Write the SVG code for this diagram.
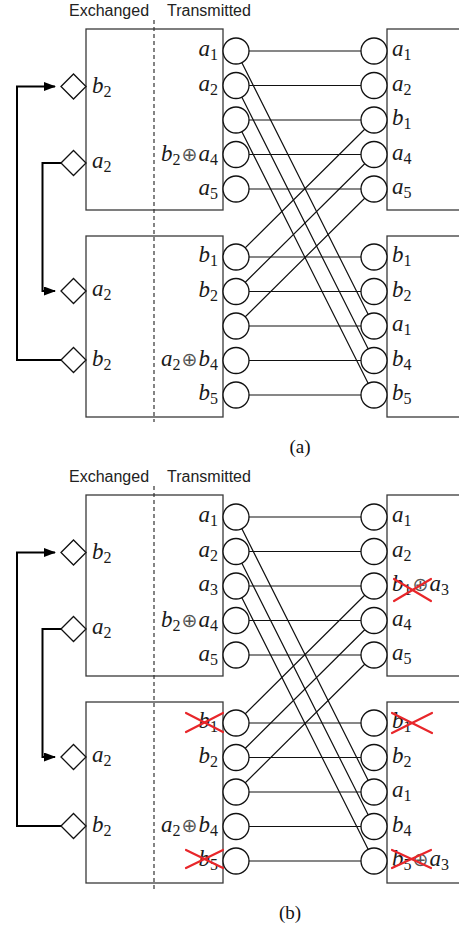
<svg xmlns="http://www.w3.org/2000/svg" width="459" height="927" viewBox="0 0 459 927">
<style>
.bg{fill:#fff}
.box{fill:none;stroke:#3a3a3a;stroke-width:1.3}
.dash{stroke:#333;stroke-width:1.2;stroke-dasharray:4 3;fill:none}
.c{fill:#fff;stroke:#111;stroke-width:1.3}
.w{stroke:#111;stroke-width:1.2;fill:none}
.dm{fill:#fff;stroke:#111;stroke-width:1.3}
.arr{fill:none;stroke:#000;stroke-width:2}
.hdr{font-family:"Liberation Sans",Arial,sans-serif;font-size:16px;fill:#222}
.m{font-family:"Liberation Serif","Times New Roman",serif;font-style:italic;font-size:23px;fill:#1a1a1a}
.ml{text-anchor:end}
.s{font-style:normal;font-size:16px}
.op{font-family:"DejaVu Sans",sans-serif;font-style:normal;font-size:19px;fill:#555}
.cap{font-family:"Liberation Serif","Times New Roman",serif;font-size:19px;text-anchor:middle;fill:#111}
.x{stroke:#e8262a;stroke-width:2.2;stroke-linecap:round}
</style>
<defs>
<marker id="ah" viewBox="0 0 12 9" refX="11" refY="4.5" markerWidth="12" markerHeight="9" markerUnits="userSpaceOnUse" orient="auto">
<path d="M0,0 L12,4.5 L0,9 z" fill="#000"/>
</marker>
</defs>
<rect class="bg" x="0" y="0" width="459" height="927"/>

<!-- ===================== PANEL (a) ===================== -->
<g id="panel-a">
<text class="hdr" x="69" y="16">Exchanged</text>
<text class="hdr" x="167" y="16">Transmitted</text>

<g id="a-box-tl"><rect class="box" x="86" y="29" width="137" height="181"/></g>
<g id="a-box-bl"><rect class="box" x="86" y="236" width="137" height="181"/></g>
<g id="a-box-tr"><rect class="box" x="387" y="29" width="100" height="181"/></g>
<g id="a-box-br"><rect class="box" x="387" y="236" width="100" height="181"/></g>
<line class="dash" x1="154" y1="20" x2="154" y2="422"/>

<g id="a-connectors">
<path class="w" d="M236,51H374M236,85.5H374M236,120H374M236,154.5H374M236,189H374M236,257H374M236,291.5H374M236,326H374M236,360.5H374M236,395H374"/>
<path class="w" d="M236,51L374,326M236,85.5L374,360.5M236,120L374,395"/>
<path class="w" d="M236,257L374,120M236,291.5L374,154.5M236,326L374,189"/>
<path class="arr" d="M61,360H17V86.5H55" marker-end="url(#ah)"/>
<path class="arr" d="M61,163H42.5V291H55" marker-end="url(#ah)"/>
</g>

<g id="a-dia-b2t"><polygon class="dm" points="61,86.5 73.5,74 86,86.5 73.5,99"/><text class="m" x="92" y="93">b<tspan class="s" dy="4">2</tspan></text></g>
<g id="a-dia-a2t"><polygon class="dm" points="61,163 73.5,150.5 86,163 73.5,175.5"/><text class="m" x="92" y="168">a<tspan class="s" dy="4">2</tspan></text></g>
<g id="a-dia-a2b"><polygon class="dm" points="61,291 73.5,278.5 86,291 73.5,303.5"/><text class="m" x="92" y="296">a<tspan class="s" dy="4">2</tspan></text></g>
<g id="a-dia-b2b"><polygon class="dm" points="61,360 73.5,347.5 86,360 73.5,372.5"/><text class="m" x="92" y="366">b<tspan class="s" dy="4">2</tspan></text></g>

<g id="a-L1"><circle class="c" cx="236" cy="51" r="13"/><text class="m ml" x="218" y="56">a<tspan class="s" dy="4">1</tspan></text></g>
<g id="a-L2"><circle class="c" cx="236" cy="85.5" r="13"/><text class="m ml" x="218" y="90.5">a<tspan class="s" dy="4">2</tspan></text></g>
<g id="a-L3"><circle class="c" cx="236" cy="120" r="13"/></g>
<g id="a-L4"><circle class="c" cx="236" cy="154.5" r="13"/><text class="m ml" x="218" y="160.5">b<tspan class="s" dy="4">2</tspan><tspan class="op" dx="1" dy="-4">⊕</tspan><tspan dx="1">a</tspan><tspan class="s" dy="4">4</tspan></text></g>
<g id="a-L5"><circle class="c" cx="236" cy="189" r="13"/><text class="m ml" x="218" y="194.5">a<tspan class="s" dy="4">5</tspan></text></g>
<g id="a-L6"><circle class="c" cx="236" cy="257" r="13"/><text class="m ml" x="218" y="262">b<tspan class="s" dy="4">1</tspan></text></g>
<g id="a-L7"><circle class="c" cx="236" cy="291.5" r="13"/><text class="m ml" x="218" y="296.5">b<tspan class="s" dy="4">2</tspan></text></g>
<g id="a-L8"><circle class="c" cx="236" cy="326" r="13"/></g>
<g id="a-L9"><circle class="c" cx="236" cy="360.5" r="13"/><text class="m ml" x="218" y="366">a<tspan class="s" dy="4">2</tspan><tspan class="op" dx="1" dy="-4">⊕</tspan><tspan dx="1">b</tspan><tspan class="s" dy="4">4</tspan></text></g>
<g id="a-L10"><circle class="c" cx="236" cy="395" r="13"/><text class="m ml" x="218" y="400">b<tspan class="s" dy="4">5</tspan></text></g>

<g id="a-R1"><circle class="c" cx="374" cy="51" r="13"/><text class="m" x="392" y="56">a<tspan class="s" dy="4">1</tspan></text></g>
<g id="a-R2"><circle class="c" cx="374" cy="85.5" r="13"/><text class="m" x="392" y="90.5">a<tspan class="s" dy="4">2</tspan></text></g>
<g id="a-R3"><circle class="c" cx="374" cy="120" r="13"/><text class="m" x="392" y="125">b<tspan class="s" dy="4">1</tspan></text></g>
<g id="a-R4"><circle class="c" cx="374" cy="154.5" r="13"/><text class="m" x="392" y="159.5">a<tspan class="s" dy="4">4</tspan></text></g>
<g id="a-R5"><circle class="c" cx="374" cy="189" r="13"/><text class="m" x="392" y="194">a<tspan class="s" dy="4">5</tspan></text></g>
<g id="a-R6"><circle class="c" cx="374" cy="257" r="13"/><text class="m" x="392" y="262">b<tspan class="s" dy="4">1</tspan></text></g>
<g id="a-R7"><circle class="c" cx="374" cy="291.5" r="13"/><text class="m" x="392" y="296.5">b<tspan class="s" dy="4">2</tspan></text></g>
<g id="a-R8"><circle class="c" cx="374" cy="326" r="13"/><text class="m" x="392" y="331">a<tspan class="s" dy="4">1</tspan></text></g>
<g id="a-R9"><circle class="c" cx="374" cy="360.5" r="13"/><text class="m" x="392" y="365.5">b<tspan class="s" dy="4">4</tspan></text></g>
<g id="a-R10"><circle class="c" cx="374" cy="395" r="13"/><text class="m" x="392" y="400">b<tspan class="s" dy="4">5</tspan></text></g>

<text class="cap" x="300" y="453">(a)</text>
</g>

<!-- ===================== PANEL (b) ===================== -->
<g id="panel-b" transform="translate(0,466)">
<text class="hdr" x="69" y="16">Exchanged</text>
<text class="hdr" x="167" y="16">Transmitted</text>

<g id="b-box-tl"><rect class="box" x="86" y="29" width="137" height="181"/></g>
<g id="b-box-bl"><rect class="box" x="86" y="236" width="137" height="181"/></g>
<g id="b-box-tr"><rect class="box" x="387" y="29" width="100" height="181"/></g>
<g id="b-box-br"><rect class="box" x="387" y="236" width="100" height="181"/></g>
<line class="dash" x1="154" y1="20" x2="154" y2="424"/>

<g id="b-connectors">
<path class="w" d="M236,51H374M236,85.5H374M236,120H374M236,154.5H374M236,189H374M236,257H374M236,291.5H374M236,326H374M236,360.5H374M236,395H374"/>
<path class="w" d="M236,51L374,326M236,85.5L374,360.5M236,120L374,395"/>
<path class="w" d="M236,257L374,120M236,291.5L374,154.5M236,326L374,189"/>
<path class="arr" d="M61,360H17V86.5H55" marker-end="url(#ah)"/>
<path class="arr" d="M61,163H42.5V291H55" marker-end="url(#ah)"/>
</g>

<g id="b-dia-b2t"><polygon class="dm" points="61,86.5 73.5,74 86,86.5 73.5,99"/><text class="m" x="92" y="93">b<tspan class="s" dy="4">2</tspan></text></g>
<g id="b-dia-a2t"><polygon class="dm" points="61,163 73.5,150.5 86,163 73.5,175.5"/><text class="m" x="92" y="168">a<tspan class="s" dy="4">2</tspan></text></g>
<g id="b-dia-a2b"><polygon class="dm" points="61,291 73.5,278.5 86,291 73.5,303.5"/><text class="m" x="92" y="296">a<tspan class="s" dy="4">2</tspan></text></g>
<g id="b-dia-b2b"><polygon class="dm" points="61,360 73.5,347.5 86,360 73.5,372.5"/><text class="m" x="92" y="366">b<tspan class="s" dy="4">2</tspan></text></g>

<g id="b-L1"><circle class="c" cx="236" cy="51" r="13"/><text class="m ml" x="218" y="56">a<tspan class="s" dy="4">1</tspan></text></g>
<g id="b-L2"><circle class="c" cx="236" cy="85.5" r="13"/><text class="m ml" x="218" y="90.5">a<tspan class="s" dy="4">2</tspan></text></g>
<g id="b-L3"><circle class="c" cx="236" cy="120" r="13"/><text class="m ml" x="218" y="125">a<tspan class="s" dy="4">3</tspan></text></g>
<g id="b-L4"><circle class="c" cx="236" cy="154.5" r="13"/><text class="m ml" x="218" y="160.5">b<tspan class="s" dy="4">2</tspan><tspan class="op" dx="1" dy="-4">⊕</tspan><tspan dx="1">a</tspan><tspan class="s" dy="4">4</tspan></text></g>
<g id="b-L5"><circle class="c" cx="236" cy="189" r="13"/><text class="m ml" x="218" y="194.5">a<tspan class="s" dy="4">5</tspan></text></g>
<g id="b-L6"><circle class="c" cx="236" cy="257" r="13"/><text class="m ml" x="218" y="262">b<tspan class="s" dy="4">1</tspan></text><line class="x" x1="186" y1="247" x2="223" y2="266"/><line class="x" x1="186" y1="266" x2="223" y2="247"/></g>
<g id="b-L7"><circle class="c" cx="236" cy="291.5" r="13"/><text class="m ml" x="218" y="296.5">b<tspan class="s" dy="4">2</tspan></text></g>
<g id="b-L8"><circle class="c" cx="236" cy="326" r="13"/></g>
<g id="b-L9"><circle class="c" cx="236" cy="360.5" r="13"/><text class="m ml" x="218" y="366">a<tspan class="s" dy="4">2</tspan><tspan class="op" dx="1" dy="-4">⊕</tspan><tspan dx="1">b</tspan><tspan class="s" dy="4">4</tspan></text></g>
<g id="b-L10"><circle class="c" cx="236" cy="395" r="13"/><text class="m ml" x="218" y="400">b<tspan class="s" dy="4">5</tspan></text><line class="x" x1="186" y1="384" x2="223" y2="402"/><line class="x" x1="186" y1="402" x2="223" y2="384"/></g>

<g id="b-R1"><circle class="c" cx="374" cy="51" r="13"/><text class="m" x="392" y="56">a<tspan class="s" dy="4">1</tspan></text></g>
<g id="b-R2"><circle class="c" cx="374" cy="85.5" r="13"/><text class="m" x="392" y="90.5">a<tspan class="s" dy="4">2</tspan></text></g>
<g id="b-R3"><circle class="c" cx="374" cy="120" r="13"/><text class="m" x="392" y="125">b<tspan class="s" dy="4">1</tspan><tspan class="op" dx="1" dy="-4">⊕</tspan><tspan dx="1">a</tspan><tspan class="s" dy="4">3</tspan></text><line class="x" x1="394" y1="113" x2="431" y2="135"/><line class="x" x1="394" y1="135" x2="431" y2="113"/></g>
<g id="b-R4"><circle class="c" cx="374" cy="154.5" r="13"/><text class="m" x="392" y="159.5">a<tspan class="s" dy="4">4</tspan></text></g>
<g id="b-R5"><circle class="c" cx="374" cy="189" r="13"/><text class="m" x="392" y="194">a<tspan class="s" dy="4">5</tspan></text></g>
<g id="b-R6"><circle class="c" cx="374" cy="257" r="13"/><text class="m" x="392" y="262">b<tspan class="s" dy="4">1</tspan></text><line class="x" x1="392" y1="247" x2="432" y2="267"/><line class="x" x1="392" y1="267" x2="432" y2="247"/></g>
<g id="b-R7"><circle class="c" cx="374" cy="291.5" r="13"/><text class="m" x="392" y="296.5">b<tspan class="s" dy="4">2</tspan></text></g>
<g id="b-R8"><circle class="c" cx="374" cy="326" r="13"/><text class="m" x="392" y="331">a<tspan class="s" dy="4">1</tspan></text></g>
<g id="b-R9"><circle class="c" cx="374" cy="360.5" r="13"/><text class="m" x="392" y="365.5">b<tspan class="s" dy="4">4</tspan></text></g>
<g id="b-R10"><circle class="c" cx="374" cy="395" r="13"/><text class="m" x="392" y="400">b<tspan class="s" dy="4">5</tspan><tspan class="op" dx="1" dy="-4">⊕</tspan><tspan dx="1">a</tspan><tspan class="s" dy="4">3</tspan></text><line class="x" x1="392" y1="384" x2="431" y2="402"/><line class="x" x1="392" y1="402" x2="431" y2="384"/></g>

<text class="cap" x="290" y="453">(b)</text>
</g>
</svg>
